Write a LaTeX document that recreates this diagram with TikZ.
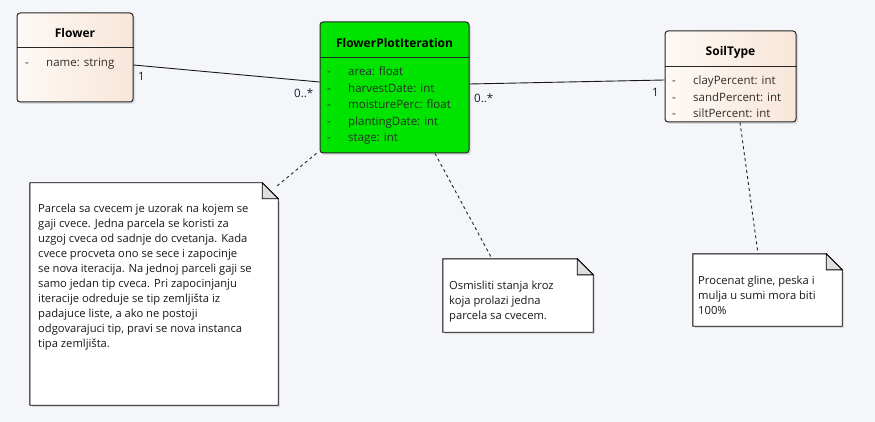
\documentclass[tikz,border=0pt]{standalone}
\usepackage{fontspec}
\setmainfont{Open Sans}
\usetikzlibrary{shadows}
\definecolor{bgc}{RGB}{244,246,250}
\definecolor{beigeA}{RGB}{253,249,245}
\definecolor{beigeB}{RGB}{248,230,217}
\definecolor{fpigreen}{RGB}{0,228,0}
\definecolor{foldgray}{RGB}{222,222,222}
\definecolor{txt}{RGB}{45,45,45}
\definecolor{mult}{RGB}{25,25,50}
\tikzset{
  classbox/.style={draw=black!85, line width=1pt, rounded corners=3pt, inner sep=0pt,
    drop shadow={opacity=0.22, shadow xshift=2pt, shadow yshift=-2pt}},
  beigefill/.style={left color=beigeA, right color=beigeB},
  greenfill/.style={fill=fpigreen},
  ctitle/.style={font=\fontsize{12}{14}\selectfont\bfseries, text=black, inner sep=0pt},
  attr/.style={anchor=base west, inner sep=0pt, text=txt, font=\fontsize{11.5}{13}\selectfont},
  multlabel/.style={anchor=base west, inner sep=0pt, text=mult, font=\fontsize{11.5}{13}\selectfont},
  notebox/.style={inner sep=0pt},
  notetext/.style={anchor=north west, inner sep=0pt, align=left, text=black!90,
    font=\fontsize{11.2}{15}\selectfont},
  assoc/.style={draw=black!90, line width=0.9pt},
  anchorline/.style={draw=black!85, line width=0.9pt, dash pattern=on 3pt off 3pt},
}
\newcommand\notedraw[1]{%
  \fill[black, opacity=0.12] ([xshift=2pt,yshift=-2pt]#1.south west) rectangle ([xshift=2pt,yshift=-18pt]#1.north east);
  \draw[fill=white, line width=0.9pt] (#1.south west) -- (#1.north west) -- ([xshift=-16pt]#1.north east)
     -- ([yshift=-16pt]#1.north east) -- (#1.south east) -- cycle;
  \draw[fill=foldgray, line width=0.9pt] ([xshift=-16pt]#1.north east) -- ([xshift=-16pt,yshift=-16pt]#1.north east)
     -- ([yshift=-16pt]#1.north east) -- cycle;
}
\begin{document}
\begin{tikzpicture}[x=1pt,y=-1pt]
\useasboundingbox (0,0) rectangle (875,422);
\fill[bgc] (0,0) rectangle (875,422);

% ---- classes
\node[classbox, beigefill, minimum width=116pt, minimum height=89pt] (flower) at (75,57.5) {};
\draw[line width=1pt, black!85] (flower.west |- 0,48) -- (flower.east |- 0,48);
\node[ctitle] (flowert) at (75,33) {Flower};
\node[attr] (fa1) at (25,67) {-};
\node[attr] (fa2) at (46,67) {name: string};

\node[classbox, greenfill, minimum width=149pt, minimum height=131pt] (fpi) at (394.5,87.5) {};
\draw[line width=1pt, black!85] (fpi.west |- 0,58) -- (fpi.east |- 0,58);
\node[ctitle] (fpit) at (394.5,43) {FlowerPlotIteration};
\node[attr] (pa1d) at (327,76) {-};
\node[attr] (pa1) at (348,76) {area: float};
\node[attr] (pa2d) at (327,92.5) {-};
\node[attr] (pa2) at (348,92.5) {harvestDate: int};
\node[attr] (pa3d) at (327,109) {-};
\node[attr] (pa3) at (348,109) {moisturePerc: float};
\node[attr] (pa4d) at (327,125.5) {-};
\node[attr] (pa4) at (348,125.5) {plantingDate: int};
\node[attr] (pa5d) at (327,142) {-};
\node[attr] (pa5) at (348,142) {stage: int};

\node[classbox, beigefill, minimum width=131pt, minimum height=91pt] (soil) at (730.5,76.5) {};
\draw[line width=1pt, black!85] (soil.west |- 0,67) -- (soil.east |- 0,67);
\node[ctitle] (soilt) at (730.5,52) {SoilType};
\node[attr] (sa1d) at (672,85) {-};
\node[attr] (sa1) at (693,85) {clayPercent: int};
\node[attr] (sa2d) at (672,101.5) {-};
\node[attr] (sa2) at (693,101.5) {sandPercent: int};
\node[attr] (sa3d) at (672,118) {-};
\node[attr] (sa3) at (693,118) {siltPercent: int};

% ---- associations
\draw[assoc] ([yshift=-7.5pt]flower.east) -- ([yshift=5.5pt]fpi.west);
\node[multlabel] (m1) at (138,81) {1};
\node[multlabel] (m2) at (294,98) {0..*};
\draw[assoc] ([yshift=3.5pt]fpi.east) -- ([yshift=-3.5pt]soil.west);
\node[multlabel] (m3) at (474,103) {0..*};
\node[multlabel] (m4) at (652,97) {1};

% ---- notes
\node[notebox, minimum width=248pt, minimum height=222pt] (note1) at (154,294) {};
\notedraw{note1}
\node[notetext] (note1t) at (38,204) {Parcela sa cvecem je uzorak na kojem se\\
gaji cvece. Jedna parcela se koristi za\\
uzgoj cveca od sadnje do cvetanja. Kada\\
cvece procveta ono se sece i zapocinje\\
se nova iteracija. Na jednoj parceli gaji se\\
samo jedan tip cveca. Pri zapocinjanju\\
iteracije odreduje se tip zemljišta iz\\
padajuce liste, a ako ne postoji\\
odgovarajuci tip, pravi se nova instanca\\
tipa zemljišta.};

\node[notebox, minimum width=150pt, minimum height=73pt] (note2) at (518,295.5) {};
\notedraw{note2}
\node[notetext] (note2t) at (449,281) {Osmisliti stanja kroz\\koja prolazi jedna\\parcela sa cvecem.};

\node[notebox, minimum width=149pt, minimum height=72pt] (note3) at (767.5,290) {};
\notedraw{note3}
\node[notetext] (note3t) at (698,276) {Procenat gline, peska i\\mulja u sumi mora biti\\100\%};

% ---- note links
\draw[anchorline] ([xshift=-1pt,yshift=-3pt]note1.north east) -- ([xshift=-2pt,yshift=1pt]fpi.south west);
\draw[anchorline] ([xshift=40.5pt]fpi.south) -- ([xshift=-26pt]note2.north);
\draw[anchorline] ([xshift=9.5pt]soil.south) -- ([xshift=-9.5pt]note3.north);
\end{tikzpicture}
\end{document}
